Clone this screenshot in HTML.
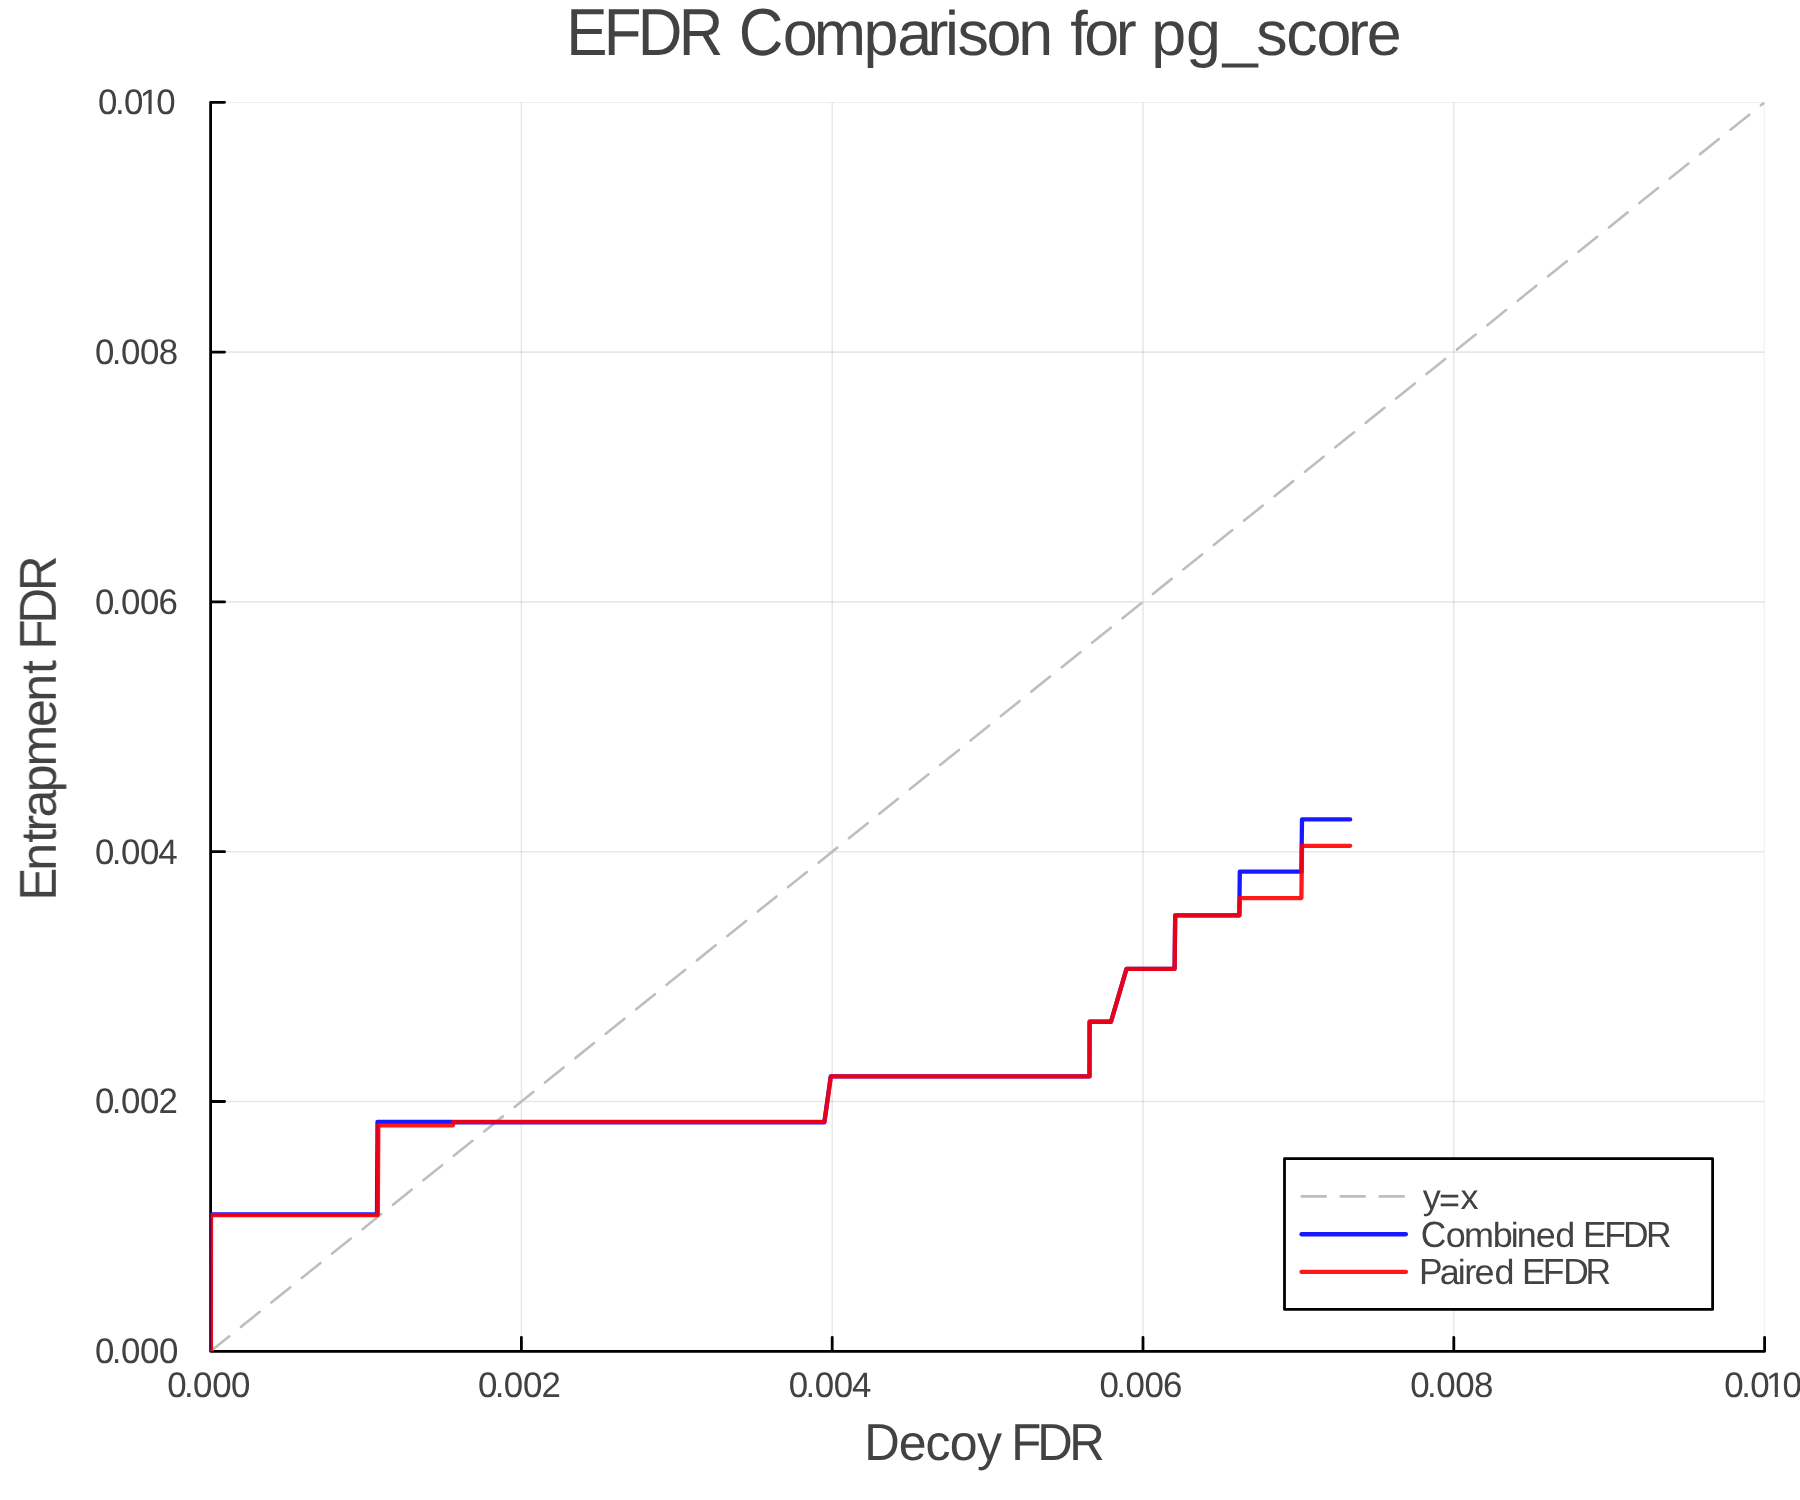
<!DOCTYPE html>
<html><head><meta charset="utf-8"><title>EFDR Comparison for pg_score</title>
<style>html,body{margin:0;padding:0;background:#fff;overflow:hidden}svg{display:block}</style>
</head><body><svg width="1800" height="1500" viewBox="0 0 1800 1500"><rect x="0" y="0" width="1800" height="1500" fill="#ffffff"/><defs><clipPath id="pc"><rect x="210.6" y="102.3" width="1554.00" height="1249.00"/></clipPath></defs><g clip-path="url(#pc)"><path d="M210.60 102.30V1351.30M521.40 102.30V1351.30M832.20 102.30V1351.30M1143.00 102.30V1351.30M1453.80 102.30V1351.30M1764.60 102.30V1351.30" stroke="#000" stroke-opacity="0.09" stroke-width="1.6" fill="none"/><path d="M210.60 1351.30H1764.60M210.60 1101.50H1764.60M210.60 851.70H1764.60M210.60 601.90H1764.60M210.60 352.10H1764.60M210.60 102.30H1764.60" stroke="#000" stroke-opacity="0.09" stroke-width="1.6" fill="none"/></g><path d="M210.60 102.30V1351.30H1764.60M210.60 1351.30V1337.30M521.40 1351.30V1337.30M832.20 1351.30V1337.30M1143.00 1351.30V1337.30M1453.80 1351.30V1337.30M1764.60 1351.30V1337.30M210.60 1351.30H224.60M210.60 1101.50H224.60M210.60 851.70H224.60M210.60 601.90H224.60M210.60 352.10H224.60M210.60 102.30H224.60" stroke="#000" stroke-width="2.8" stroke-linecap="round" stroke-linejoin="round" fill="none"/><g clip-path="url(#pc)"><path d="M210.60 1351.30L1764.60 102.30" stroke="#bebebe" stroke-width="2.6" stroke-dasharray="24 15" stroke-linecap="round" fill="none"/><path d="M210.60 1351.55L210.70 1214.45L377.00 1214.45L377.50 1121.95L452.30 1121.95L452.80 1122.25L824.30 1122.25L830.70 1076.45L1089.50 1076.45L1089.60 1021.75L1111.00 1021.75L1126.50 968.85L1174.60 968.85L1175.20 915.45L1239.30 915.45L1239.80 871.65L1301.40 871.65L1302.00 819.45L1350.20 819.45" stroke="#0000ff" stroke-opacity="0.9" stroke-width="4.3" stroke-linejoin="round" stroke-linecap="round" fill="none"/><path d="M210.90 1351.55L211.00 1215.05L377.80 1215.05L378.30 1125.40L452.80 1125.40L453.30 1121.95L824.50 1121.95L830.90 1076.45L1089.50 1076.45L1089.60 1021.75L1111.00 1021.75L1126.50 968.85L1174.60 968.85L1175.20 915.45L1239.30 915.45L1239.80 898.05L1301.40 898.05L1302.00 845.85L1350.20 845.85" stroke="#ff0000" stroke-opacity="0.9" stroke-width="4.3" stroke-linejoin="round" stroke-linecap="round" fill="none"/></g><rect x="1284.5" y="1158.6" width="428.1" height="150.8" fill="#fff" stroke="#000" stroke-width="2.8" stroke-linejoin="round"/><path d="M1301.7 1196.4H1405.9" stroke="#bebebe" stroke-width="2.6" stroke-dasharray="24 15" stroke-linecap="round"/><path d="M1301.5 1234.25H1405.9" stroke="#0000ff" stroke-opacity="0.9" stroke-width="4.3" stroke-linecap="round"/><path d="M1301.5 1271.9H1405.9" stroke="#ff0000" stroke-opacity="0.9" stroke-width="4.3" stroke-linecap="round"/><g fill="#424242" font-family="'Liberation Sans', Arial, Helvetica, sans-serif" style="will-change:transform" text-rendering="geometricPrecision"><text x="169.68 186.72 195.98 215.37 234.56" y="1396.55" font-size="35.4" transform="scale(0.985 1)">0.000</text><text x="485.22 502.25 511.51 530.90 549.69" y="1396.55" font-size="35.4" transform="scale(0.985 1)">0.002</text><text x="800.75 817.78 827.04 846.43 864.97" y="1396.55" font-size="35.4" transform="scale(0.985 1)">0.004</text><text x="1116.28 1133.32 1142.58 1161.97 1180.84" y="1396.55" font-size="35.4" transform="scale(0.985 1)">0.006</text><text x="1431.82 1448.85 1458.11 1477.50 1496.53" y="1396.55" font-size="35.4" transform="scale(0.985 1)">0.008</text><text x="1750.60 1767.65 1776.83 1792.86 1809.54" y="1396.55" font-size="35.4" transform="scale(0.985 1)">0.010</text><text x="96.43 113.47 122.73 142.12 161.31" y="1363.23" font-size="35.4" transform="scale(0.985 1)">0.000</text><text x="96.43 113.47 122.73 142.12 160.91" y="1113.43" font-size="35.4" transform="scale(0.985 1)">0.002</text><text x="96.43 113.47 122.73 142.12 160.66" y="863.63" font-size="35.4" transform="scale(0.985 1)">0.004</text><text x="96.43 113.47 122.73 142.12 160.99" y="613.83" font-size="35.4" transform="scale(0.985 1)">0.006</text><text x="96.43 113.47 122.73 142.12 161.15" y="364.03" font-size="35.4" transform="scale(0.985 1)">0.008</text><text x="99.57 116.63 125.81 141.83 158.52" y="114.23" font-size="35.4" transform="scale(0.985 1)">0.010</text><text y="55.00"><tspan x="566.33" font-size="66.5" textLength="41.25" lengthAdjust="spacingAndGlyphs">E</tspan><tspan x="603.63" font-size="66.5" textLength="37.78" lengthAdjust="spacingAndGlyphs">F</tspan><tspan x="637.73" font-size="66.5" textLength="44.66" lengthAdjust="spacingAndGlyphs">D</tspan><tspan x="678.83" font-size="66.5" textLength="44.66" lengthAdjust="spacingAndGlyphs">R</tspan> <tspan x="738.86" font-size="66.5" textLength="44.66" lengthAdjust="spacingAndGlyphs">C</tspan><tspan x="782.66" font-size="62.8" textLength="34.93" lengthAdjust="spacingAndGlyphs">o</tspan><tspan x="813.63" font-size="62.8" textLength="52.31" lengthAdjust="spacingAndGlyphs">m</tspan><tspan x="863.45" font-size="62.8" textLength="34.93" lengthAdjust="spacingAndGlyphs">p</tspan><tspan x="897.33" font-size="62.8" textLength="34.93" lengthAdjust="spacingAndGlyphs">a</tspan><tspan x="927.53" font-size="62.8" textLength="20.91" lengthAdjust="spacingAndGlyphs">r</tspan><tspan x="945.00" font-size="62.8" textLength="13.95" lengthAdjust="spacingAndGlyphs">i</tspan><tspan x="957.45" font-size="62.8" textLength="31.40" lengthAdjust="spacingAndGlyphs">s</tspan><tspan x="986.56" font-size="62.8" textLength="34.93" lengthAdjust="spacingAndGlyphs">o</tspan><tspan x="1018.33" font-size="62.8" textLength="34.93" lengthAdjust="spacingAndGlyphs">n</tspan> <tspan x="1070.31" font-size="62.8" textLength="17.45" lengthAdjust="spacingAndGlyphs">f</tspan><tspan x="1084.36" font-size="62.8" textLength="34.93" lengthAdjust="spacingAndGlyphs">o</tspan><tspan x="1115.83" font-size="62.8" textLength="20.91" lengthAdjust="spacingAndGlyphs">r</tspan> <tspan x="1151.25" font-size="62.8" textLength="34.93" lengthAdjust="spacingAndGlyphs">p</tspan><tspan x="1186.06" font-size="62.8" textLength="34.93" lengthAdjust="spacingAndGlyphs">g</tspan><tspan x="1222.65" font-size="62.8" textLength="34.93" lengthAdjust="spacingAndGlyphs">_</tspan><tspan x="1256.25" font-size="62.8" textLength="31.40" lengthAdjust="spacingAndGlyphs">s</tspan><tspan x="1286.23" font-size="62.8" textLength="31.40" lengthAdjust="spacingAndGlyphs">c</tspan><tspan x="1316.56" font-size="62.8" textLength="34.93" lengthAdjust="spacingAndGlyphs">o</tspan><tspan x="1348.03" font-size="62.8" textLength="20.91" lengthAdjust="spacingAndGlyphs">r</tspan><tspan x="1366.73" font-size="62.8" textLength="34.93" lengthAdjust="spacingAndGlyphs">e</tspan></text><text y="1459.90"><tspan x="864.27" font-size="52" textLength="35.49" lengthAdjust="spacingAndGlyphs">D</tspan><tspan x="898.83" font-size="50.0" textLength="27.81" lengthAdjust="spacingAndGlyphs">e</tspan><tspan x="925.38" font-size="50.0" textLength="25.00" lengthAdjust="spacingAndGlyphs">c</tspan><tspan x="949.80" font-size="50.0" textLength="27.81" lengthAdjust="spacingAndGlyphs">o</tspan><tspan x="977.08" font-size="50.0" textLength="25.00" lengthAdjust="spacingAndGlyphs">y</tspan> <tspan x="1011.27" font-size="52" textLength="30.02" lengthAdjust="spacingAndGlyphs">F</tspan><tspan x="1037.17" font-size="52" textLength="35.49" lengthAdjust="spacingAndGlyphs">D</tspan><tspan x="1069.37" font-size="52" textLength="35.49" lengthAdjust="spacingAndGlyphs">R</tspan></text><g transform="translate(55.8 0) rotate(-90)"><text y="0.00"><tspan x="-900.53" font-size="52" textLength="32.78" lengthAdjust="spacingAndGlyphs">E</tspan><tspan x="-870.82" font-size="50.0" textLength="27.81" lengthAdjust="spacingAndGlyphs">n</tspan><tspan x="-842.66" font-size="50.0" textLength="13.89" lengthAdjust="spacingAndGlyphs">t</tspan><tspan x="-831.42" font-size="50.0" textLength="16.65" lengthAdjust="spacingAndGlyphs">r</tspan><tspan x="-817.62" font-size="50.0" textLength="27.81" lengthAdjust="spacingAndGlyphs">a</tspan><tspan x="-792.32" font-size="50.0" textLength="27.81" lengthAdjust="spacingAndGlyphs">p</tspan><tspan x="-766.52" font-size="50.0" textLength="41.65" lengthAdjust="spacingAndGlyphs">m</tspan><tspan x="-727.12" font-size="50.0" textLength="27.81" lengthAdjust="spacingAndGlyphs">e</tspan><tspan x="-701.72" font-size="50.0" textLength="27.81" lengthAdjust="spacingAndGlyphs">n</tspan><tspan x="-673.96" font-size="50.0" textLength="13.89" lengthAdjust="spacingAndGlyphs">t</tspan> <tspan x="-649.43" font-size="52" textLength="30.02" lengthAdjust="spacingAndGlyphs">F</tspan><tspan x="-623.43" font-size="52" textLength="35.49" lengthAdjust="spacingAndGlyphs">D</tspan><tspan x="-591.03" font-size="52" textLength="35.49" lengthAdjust="spacingAndGlyphs">R</tspan></text></g><text y="1209.00"><tspan x="1422.81" y="1209.00" font-size="35.0" textLength="17.99" lengthAdjust="spacingAndGlyphs">y</tspan><tspan x="1439.14" y="1211.60" font-size="35.0" textLength="21.01" lengthAdjust="spacingAndGlyphs">=</tspan><tspan x="1460.50" y="1209.00" font-size="35.0" textLength="17.99" lengthAdjust="spacingAndGlyphs">x</tspan></text><text y="1246.80"><tspan x="1420.80" font-size="36.5" textLength="25.57" lengthAdjust="spacingAndGlyphs">C</tspan><tspan x="1445.79" font-size="35.0" textLength="20.01" lengthAdjust="spacingAndGlyphs">o</tspan><tspan x="1463.91" font-size="35.0" textLength="29.97" lengthAdjust="spacingAndGlyphs">m</tspan><tspan x="1492.68" font-size="35.0" textLength="20.01" lengthAdjust="spacingAndGlyphs">b</tspan><tspan x="1510.79" font-size="35.0" textLength="7.99" lengthAdjust="spacingAndGlyphs">i</tspan><tspan x="1516.81" font-size="35.0" textLength="20.01" lengthAdjust="spacingAndGlyphs">n</tspan><tspan x="1535.77" font-size="35.0" textLength="20.01" lengthAdjust="spacingAndGlyphs">e</tspan><tspan x="1555.29" font-size="35.0" textLength="20.01" lengthAdjust="spacingAndGlyphs">d</tspan> <tspan x="1583.10" font-size="36.5" textLength="23.61" lengthAdjust="spacingAndGlyphs">E</tspan><tspan x="1604.20" font-size="36.5" textLength="21.63" lengthAdjust="spacingAndGlyphs">F</tspan><tspan x="1623.10" font-size="36.5" textLength="25.57" lengthAdjust="spacingAndGlyphs">D</tspan><tspan x="1646.10" font-size="36.5" textLength="25.57" lengthAdjust="spacingAndGlyphs">R</tspan></text><text y="1283.90"><tspan x="1419.10" font-size="36.5" textLength="23.61" lengthAdjust="spacingAndGlyphs">P</tspan><tspan x="1439.87" font-size="35.0" textLength="20.01" lengthAdjust="spacingAndGlyphs">a</tspan><tspan x="1457.89" font-size="35.0" textLength="7.99" lengthAdjust="spacingAndGlyphs">i</tspan><tspan x="1464.31" font-size="35.0" textLength="11.98" lengthAdjust="spacingAndGlyphs">r</tspan><tspan x="1474.57" font-size="35.0" textLength="20.01" lengthAdjust="spacingAndGlyphs">e</tspan><tspan x="1494.59" font-size="35.0" textLength="20.01" lengthAdjust="spacingAndGlyphs">d</tspan> <tspan x="1522.10" font-size="36.5" textLength="23.61" lengthAdjust="spacingAndGlyphs">E</tspan><tspan x="1542.70" font-size="36.5" textLength="21.63" lengthAdjust="spacingAndGlyphs">F</tspan><tspan x="1563.20" font-size="36.5" textLength="25.57" lengthAdjust="spacingAndGlyphs">D</tspan><tspan x="1585.40" font-size="36.5" textLength="25.57" lengthAdjust="spacingAndGlyphs">R</tspan></text></g><g fill="#fff"><rect x="1767.72" y="1393.11" width="7.01" height="4.14"/><rect x="1777.81" y="1393.11" width="6.74" height="4.14"/><rect x="141.46" y="110.79" width="7.01" height="4.14"/><rect x="151.55" y="110.79" width="6.74" height="4.14"/></g></svg></body></html>
